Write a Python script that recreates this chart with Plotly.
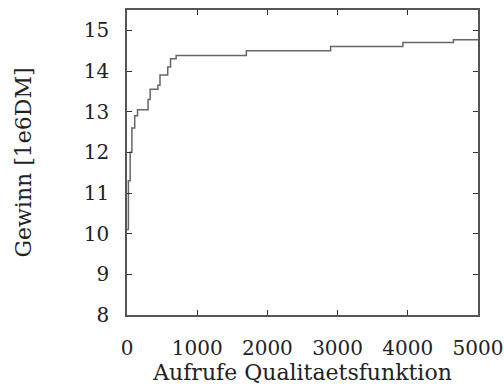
import plotly.graph_objects as go

calls = [0, 20, 45, 70, 110, 150, 300, 330, 440, 470, 580, 620, 700, 1700, 2900, 3930, 4650, 5000]
gain = [10.1, 11.3, 12.0, 12.6, 12.9, 13.05, 13.3, 13.55, 13.65, 13.9, 14.1, 14.3, 14.38, 14.5, 14.6, 14.7, 14.77, 14.77]

x_ticks = [0, 1000, 2000, 3000, 4000, 5000]
y_ticks = [8, 9, 10, 11, 12, 13, 14, 15]

tick_font = dict(family="DejaVu Serif, serif", size=20, color="#222")
title_font = dict(family="DejaVu Serif, serif", size=22, color="#222")

fig = go.Figure()
fig.add_trace(go.Scatter(x=calls, y=gain, mode="lines", line_shape="hv",
                         line=dict(color="#666", width=1.5), showlegend=False))

axis_common = dict(showline=True, linecolor="#555", linewidth=1.5, mirror="ticks",
                   ticks="inside", ticklen=5, tickcolor="#333", tickwidth=1.2,
                   showgrid=False, zeroline=False, tickfont=tick_font)

fig.update_xaxes(range=[0, 5000], tickvals=x_ticks, ticktext=[str(v) for v in x_ticks],
                 ticklabelstandoff=14,
                 title=dict(text="Aufrufe Qualitaetsfunktion", font=title_font, standoff=2), **axis_common)
fig.update_yaxes(range=[8, 15.5], tickvals=y_ticks, ticktext=[str(v) for v in y_ticks],
                 ticklabelstandoff=12,
                 title=dict(text="Gewinn [1e6DM]", font=title_font, standoff=46), **axis_common)

fig.update_layout(width=504, height=388, margin=dict(l=127, r=26, t=10, b=73, autoexpand=False),
                  paper_bgcolor="white", plot_bgcolor="white", font=tick_font)

fig.write_html("out.html", config={"displayModeBar": False})
with open("out.html", encoding="utf-8") as f:
    html = f.read()
html = html.replace("<body>", '<body style="margin:0;overflow:hidden">', 1)
with open("out.html", "w", encoding="utf-8") as f:
    f.write(html)
